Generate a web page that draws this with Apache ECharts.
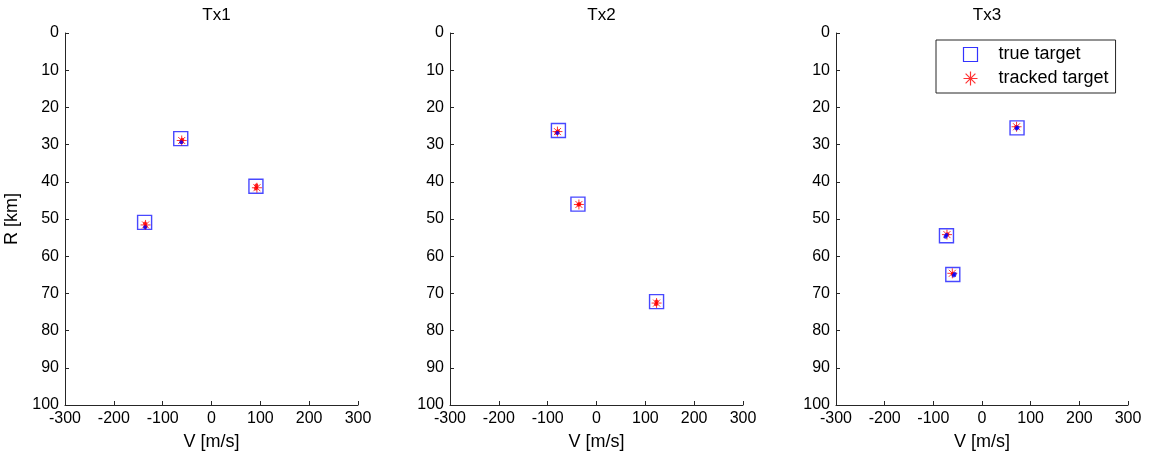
<!DOCTYPE html>
<html>
<head>
<meta charset="utf-8">
<script src="https://cdn.jsdelivr.net/npm/echarts@6/dist/echarts.min.js"></script>
<style>
  html, body { margin: 0; padding: 0; background: #fff; }
  #chart { width: 1150px; height: 461px; }
</style>
</head>
<body>
<div id="chart"></div>
<script>
// panel titles
const panels = ['Tx1', 'Tx2', 'Tx3'];

// true target positions, V [m/s] and R [km]
const trueV = [[-63, 91, -137], [-78, -38, 123], [72, -73, -60]];
const trueR = [[28.4, 41.2, 50.9], [26.2, 46.0, 72.2], [25.5, 54.5, 64.9]];

// tracked target positions
const trackV = [[-61, 93, -135], [-80, -36, 123], [71, -72, -61]];
const trackR = [[28.9, 41.6, 51.6], [26.5, 46.1, 72.6], [25.2, 54.2, 64.6]];

// small track dots (red = tracked history, blue = true history)
const redDotV = [[-61, -60, 92, 91, -136, -135], [-82, -79, -37, -35, 122, 123], [70, -71, -60]];
const redDotR = [[29.3, 28.7, 41.0, 41.8, 51.2, 52.0], [26.8, 26.4, 46.2, 46.0, 72.9, 72.2], [25.3, 54.1, 64.8]];
const blueDotV = [[-62, -136], [-80], [71, 73, -75, -73, -58, -56]];
const blueDotR = [[29.4, 52.2], [26.9], [25.7, 25.4, 54.8, 54.3, 65.2, 64.8]];

const xTicks = [-300, 300, 100];   // min, max, step
const yTicks = [0, 100, 10];

const grids = [
  { left: 65, width: 293 },
  { left: 450, width: 293 },
  { left: 836, width: 292 },
];

const starPath = 'path://M0,-10L0,10M-10,0L10,0M-7,-7L7,7M-7,7L7,-7';
const axisColor = '#262626';
const font = 'Liberation Sans, Arial, sans-serif';

const zip = (a, b) => a.map((v, i) => [v, b[i]]);

const option = {
  animation: false,
  backgroundColor: '#fff',
  textStyle: { fontFamily: font },
  title: panels.map((t, i) => ({
    text: t,
    left: grids[i].left + grids[i].width / 2,
    top: 2,
    textAlign: 'center',
    textStyle: { fontFamily: font, fontSize: 17, fontWeight: 'normal', color: '#000' },
  })),
  legend: {
    data: [
      { name: 'true target', icon: 'rect', itemStyle: { color: 'none', borderColor: '#0000ff', borderWidth: 1.2 } },
      { name: 'tracked target', icon: starPath, itemStyle: { color: 'none', borderColor: '#ff0000', borderWidth: 1.2 } },
    ],
    orient: 'vertical',
    left: 936,
    top: 40,
    itemWidth: 14,
    itemHeight: 14,
    itemGap: 5,
    padding: [5, 7, 5, 25],
    borderColor: '#262626',
    borderWidth: 1,
    textStyle: { fontFamily: font, fontSize: 18, color: '#000', padding: [0, 0, 0, 16] },
  },
  grid: grids.map(g => ({ left: g.left, width: g.width, top: 33, height: 372 })),
  xAxis: grids.map((g, i) => ({
    gridIndex: i,
    type: 'value',
    position: 'bottom',
    min: xTicks[0], max: xTicks[1], interval: xTicks[2],
    name: 'V [m/s]',
    nameLocation: 'middle',
    nameGap: 28,
    nameTextStyle: { fontFamily: font, fontSize: 18, color: '#000' },
    axisLine: { onZero: false, lineStyle: { color: axisColor, width: 1 } },
    axisTick: { inside: true, length: 4, lineStyle: { color: axisColor } },
    axisLabel: { fontFamily: font, fontSize: 16, color: '#000', margin: 6 },
    splitLine: { show: false },
  })),
  yAxis: grids.map((g, i) => ({
    gridIndex: i,
    type: 'value',
    position: 'left',
    inverse: true,
    min: yTicks[0], max: yTicks[1], interval: yTicks[2],
    name: i === 0 ? 'R [km]' : '',
    nameLocation: 'middle',
    nameGap: 44,
    nameTextStyle: { fontFamily: font, fontSize: 18, color: '#000' },
    axisLine: { onZero: false, lineStyle: { color: axisColor, width: 1 } },
    axisTick: { inside: true, length: 4, lineStyle: { color: axisColor } },
    axisLabel: { fontFamily: font, fontSize: 16, color: '#000', margin: 6 },
    splitLine: { show: false },
  })),
  series: [],
};

panels.forEach((p, i) => {
  option.series.push({
    name: 'true target',
    type: 'scatter',
    xAxisIndex: i, yAxisIndex: i,
    symbol: 'rect',
    symbolSize: 14,
    itemStyle: { color: 'none', borderColor: '#1a1aff', borderWidth: 1.4 },
    data: zip(trueV[i], trueR[i]),
    z: 2,
  });
  option.series.push({
    name: 'tracked target',
    type: 'scatter',
    xAxisIndex: i, yAxisIndex: i,
    symbol: starPath,
    symbolSize: 10,
    itemStyle: { color: 'none', borderColor: '#ff0000', borderWidth: 1, opacity: 0.8 },
    data: zip(trackV[i], trackR[i]),
    z: 3,
  });
  option.series.push({
    name: 'tracked history',
    type: 'scatter',
    xAxisIndex: i, yAxisIndex: i,
    symbol: 'circle',
    symbolSize: 4,
    itemStyle: { color: '#ff0000' },
    data: zip(redDotV[i], redDotR[i]),
    z: 4,
  });
  option.series.push({
    name: 'true history',
    type: 'scatter',
    xAxisIndex: i, yAxisIndex: i,
    symbol: 'circle',
    symbolSize: 4,
    itemStyle: { color: '#0000ff' },
    data: zip(blueDotV[i], blueDotR[i]),
    z: 5,
  });
});

const chart = echarts.init(document.getElementById('chart'));
chart.setOption(option);
</script>
</body>
</html>
